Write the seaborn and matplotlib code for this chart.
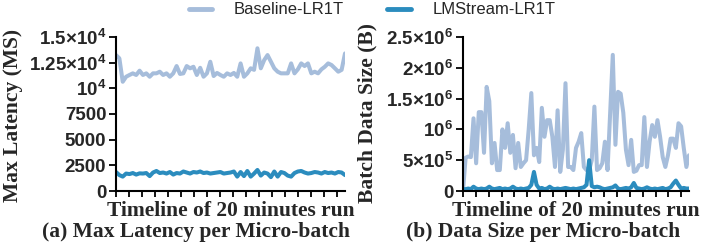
import numpy as np
import pandas as pd
import matplotlib
matplotlib.use("Agg")
import matplotlib.pyplot as plt
import seaborn as sns
from matplotlib.ticker import MultipleLocator

# Max latency per micro-batch (x1000 ms)
baseline_latency = [13.24, 12.92, 10.64, 11.13, 11.3, 11.46, 11.3, 11.72, 11.3, 11.46,
                    11.13, 11.46, 11.46, 11.62, 11.3, 11.46, 11.13, 11.46, 12.17, 11.4,
                    11.46, 12.17, 11.95, 12.1, 11.3, 12.0, 11.13, 11.46, 12.59, 11.2,
                    11.5, 11.3, 11.13, 11.46, 11.3, 11.5, 11.13, 12.43, 11.13, 11.46,
                    11.95, 11.8, 13.9, 11.95, 12.75, 13.24, 12.6, 11.95, 11.62, 11.46,
                    11.46, 11.46, 12.43, 11.46, 11.85, 12.43, 12.17, 12.43, 11.46, 11.62,
                    11.46, 11.85, 12.1, 12.43, 12.27, 11.95, 11.62, 11.8, 13.4]
lmstream_latency = [1.85, 1.55, 1.40, 1.70, 1.65, 1.75, 1.60, 1.72, 1.70, 1.75,
                    1.45, 1.80, 1.95, 1.75, 1.80, 1.70, 1.85, 1.60, 1.75, 1.70,
                    1.90, 1.80, 1.70, 1.85, 1.80, 1.90, 1.75, 1.80, 1.70, 1.75,
                    1.80, 1.85, 1.70, 1.75, 1.80, 1.90, 1.40, 1.85, 1.45, 1.95,
                    1.40, 1.70, 2.05, 1.50, 1.80, 1.70, 1.35, 1.90, 1.40, 1.85,
                    1.75, 1.50, 1.40, 1.75, 1.90, 1.95, 1.80, 1.70, 1.75, 1.85,
                    1.80, 1.70, 1.85, 1.75, 1.80, 1.70, 1.85, 1.80, 1.55]

# Batch data size per micro-batch (x1e6 bytes)
baseline_size = [0.0, 0.54, 0.56, 0.55, 1.18, 0.45, 1.28, 1.28, 0.62, 1.69,
                 1.46, 0.45, 0.78, 0.34, 0.34, 1.0, 0.70, 1.10, 0.62, 0.91,
                 0.37, 0.78, 0.39, 0.45, 0.50, 1.0, 1.59, 0.58, 0.70, 0.47,
                 1.35, 0.88, 1.15, 1.15, 0.88, 0.39, 1.31, 0.31, 0.67, 1.75,
                 0.39, 0.39, 0.34, 0.70, 0.80, 0.94, 0.39, 0.34, 0.34, 0.50,
                 1.37, 0.34, 0.37, 0.45, 0.80, 0.34, 1.27, 2.21, 0.75, 1.61,
                 1.58, 1.27, 0.67, 0.42, 0.83, 0.31, 0.33, 0.42, 0.42, 1.20,
                 0.39, 0.80, 1.07, 0.88, 1.15, 0.88, 0.55, 0.39, 0.58, 0.85,
                 0.85, 0.70, 1.10, 1.05, 0.70, 0.39, 0.58]
lmstream_size = [0.03, 0.03, 0.04, 0.03, 0.07, 0.04, 0.03, 0.04, 0.03, 0.04,
                 0.07, 0.04, 0.03, 0.04, 0.05, 0.03, 0.04, 0.03, 0.04, 0.07,
                 0.04, 0.03, 0.04, 0.03, 0.04, 0.05, 0.10, 0.31, 0.10, 0.04,
                 0.05, 0.03, 0.04, 0.07, 0.04, 0.03, 0.04, 0.03, 0.04, 0.05,
                 0.04, 0.03, 0.04, 0.03, 0.04, 0.05, 0.06, 0.10, 0.50, 0.08,
                 0.06, 0.07, 0.06, 0.04, 0.03, 0.04, 0.05, 0.06, 0.09, 0.04,
                 0.03, 0.04, 0.05, 0.04, 0.06, 0.13, 0.05, 0.04, 0.03, 0.04,
                 0.06, 0.04, 0.03, 0.04, 0.03, 0.04, 0.05, 0.03, 0.04, 0.06,
                 0.12, 0.17, 0.10, 0.04, 0.05, 0.04, 0.04]

systems = ["Baseline-LR1T", "LMStream-LR1T"]
colors = ["#a6bddb", "#2b8cbe"]

lat_ticks = [0, 2500, 5000, 7500, 10000, 12500, 15000]
lat_labels = ["0", "2500", "5000", "7500", "10$^{4}$", "1.25×10$^{4}$", "1.5×10$^{4}$"]
size_ticks = [0, 5e5, 1e6, 1.5e6, 2e6, 2.5e6]
size_labels = ["0", "5×10$^{5}$", "10$^{6}$", "1.5×10$^{6}$", "2×10$^{6}$", "2.5×10$^{6}$"]

sns.set_style("ticks")
plt.rcParams["font.family"] = ["Liberation Sans", "DejaVu Sans"]
plt.rcParams["mathtext.fontset"] = "custom"
plt.rcParams["mathtext.rm"] = "Liberation Sans:bold"
plt.rcParams["mathtext.it"] = "Liberation Sans:bold"
plt.rcParams["mathtext.bf"] = "Liberation Sans:bold"


def long_df(base, lm, scale):
    rows = []
    for name, vals in zip(systems, [base, lm]):
        for i, v in enumerate(vals):
            rows.append({"t": i, "value": v * scale, "system": name})
    return pd.DataFrame(rows)


df_lat = long_df(baseline_latency, lmstream_latency, 1000)
df_size = long_df(baseline_size, lmstream_size, 1e6)

fig = plt.figure(figsize=(7.03, 2.44), dpi=100)
ax1 = fig.add_axes([116 / 703, 53 / 244, 229 / 703, 154 / 244])
ax2 = fig.add_axes([463 / 703, 53 / 244, 226 / 703, 154 / 244])

serif = dict(family="Liberation Serif", weight="bold", size=15.5)

panels = [
    (ax1, df_lat, lat_ticks, lat_labels, 15000, "Max Latency (MS)", -0.405, 0.49, len(baseline_latency)),
    (ax2, df_size, size_ticks, size_labels, 2.5e6, "Batch Data Size (B)", -0.38, 0.506, len(baseline_size)),
]
for ax, df, ticks, labels, top, ylab, lx, ly, n in panels:
    sns.lineplot(data=df, x="t", y="value", hue="system", palette=colors,
                 hue_order=systems, linewidth=2.9, ax=ax, legend=False)
    ax.set_xlim(0, n - 1)
    ax.set_ylim(0, top)
    ax.set_yticks(ticks)
    ax.set_yticklabels(labels, fontsize=13.5, fontweight="bold")
    ax.xaxis.set_major_locator(MultipleLocator((n - 1) / 17.6))
    ax.set_xticklabels([])
    ax.tick_params(axis="x", length=4, width=1.3, direction="out", color="black")
    ax.tick_params(axis="y", length=5, width=1.3, direction="out", color="black", pad=2)
    for s in ["left", "bottom"]:
        ax.spines[s].set_linewidth(1.5)
        ax.spines[s].set_color("black")
    sns.despine(ax=ax)
    ax.set_xlabel("Timeline of 20 minutes run", fontdict=serif, labelpad=0)
    ax.set_ylabel(ylab, fontdict=serif)
    ax.yaxis.set_label_coords(lx, ly)

fig.text(196 / 703, 1 - 232 / 244, "(a) Max Latency per Micro-batch", ha="center", va="center", **serif)
fig.text(543 / 703, 1 - 232 / 244, "(b) Data Size per Micro-batch", ha="center", va="center", **serif)

handles = [plt.Line2D([], [], color=c, linewidth=3.5) for c in colors]
fig.legend(handles, systems, loc="center", bbox_to_anchor=(372 / 703, 1 - 10 / 244), ncol=2,
           frameon=False, fontsize=12, handlelength=1.4, handletextpad=1.3, columnspacing=2.6,
           borderpad=0, borderaxespad=0)

fig.savefig("out.png", dpi=100)
